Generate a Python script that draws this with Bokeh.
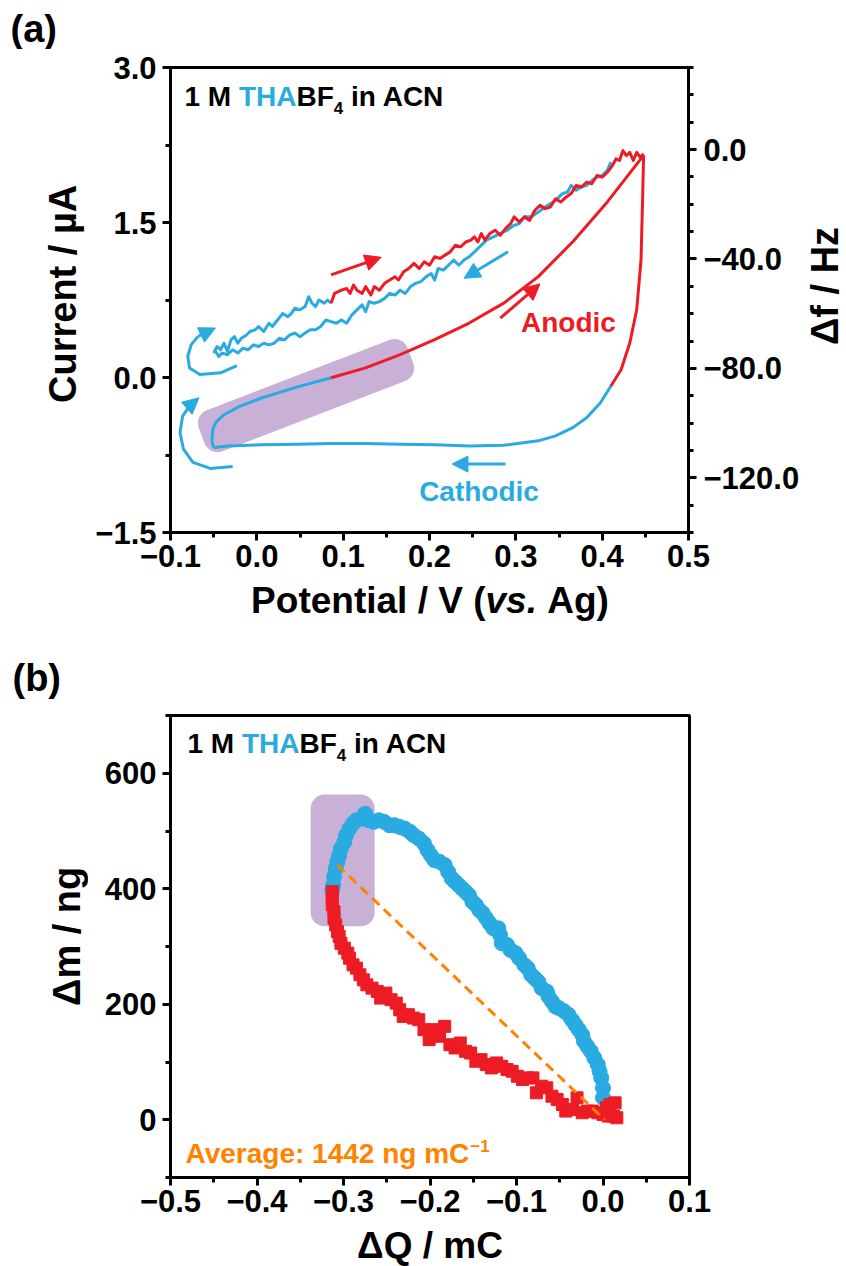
import numpy as np
from bokeh.plotting import figure
from bokeh.models import (Range1d, LinearAxis, FixedTicker, CustomJSTickFormatter,
                          Label, Arrow, NormalHead)
from bokeh.layouts import column, row
from bokeh.embed import file_html
from bokeh.resources import INLINE

RED = "#ED1C24"
BLUE = "#29ABE2"
ORANGE = "#FF8200"
PURPLE = "#C9B0D6"
FONT = "Liberation Sans"

# ---------------- panel (a) data ----------------
# CV current (left axis, µA) vs potential (V vs Ag)
cv_an_blue_E = [-0.050, -0.052, -0.051, -0.047, -0.038, -0.020, 0.006, 0.046, 0.086]
cv_an_blue_I = [-0.68, -0.62, -0.50, -0.43, -0.36, -0.28, -0.196, -0.093, -0.003]
cv_an_red_E = [0.086, 0.126, 0.166, 0.206, 0.246, 0.286, 0.326, 0.366, 0.406, 0.448]
cv_an_red_I = [-0.003, 0.093, 0.222, 0.366, 0.527, 0.72, 0.976, 1.314, 1.699, 2.149]
cv_ca_red_E = [0.448, 0.447, 0.445, 0.440, 0.432, 0.422, 0.410]
cv_ca_red_I = [2.149, 1.78, 1.137, 0.655, 0.334, 0.077, -0.084]
cv_ca_blue_E = [0.410, 0.398, 0.382, 0.366, 0.346, 0.326, 0.286, 0.246, 0.206, 0.166,
                0.126, 0.086, 0.046, 0.006, -0.034, -0.050]
cv_ca_blue_I = [-0.084, -0.244, -0.389, -0.485, -0.565, -0.613, -0.655, -0.662, -0.652,
                -0.646, -0.639, -0.639, -0.646, -0.652, -0.662, -0.680]

# frequency shift (right axis, Hz)
df_an_blue_E = [-0.050, -0.046, -0.042, -0.038, -0.034, -0.030, -0.026, -0.022, -0.018, -0.012,
                -0.008, -0.002, 0.002, 0.008, 0.014, 0.018, 0.024, 0.030, 0.036, 0.040,
                0.044, 0.050, 0.056, 0.060, 0.064, 0.068, 0.072, 0.078, 0.082, 0.086]
df_an_blue_F = [-74.4, -72.0, -73.2, -70.8, -73.8, -69.6, -68.4, -70.8, -69.0, -67.8,
                -66.5, -65.9, -64.7, -66.5, -63.5, -64.7, -62.3, -59.9, -61.1, -59.9,
                -58.0, -58.6, -57.4, -53.8, -56.2, -57.4, -55.0, -56.2, -55.0, -56.2]
df_an_red_E = [0.086, 0.090, 0.098, 0.104, 0.108, 0.112, 0.116, 0.122, 0.126, 0.132,
               0.136, 0.142, 0.148, 0.154, 0.160, 0.164, 0.170, 0.176, 0.182, 0.188,
               0.194, 0.200, 0.206, 0.212, 0.218, 0.224, 0.230, 0.236, 0.242, 0.248,
               0.252, 0.256, 0.260, 0.264, 0.270, 0.276, 0.282, 0.288, 0.294, 0.298,
               0.304, 0.310, 0.316, 0.322, 0.328, 0.334, 0.340, 0.346, 0.352, 0.358,
               0.364, 0.370, 0.376, 0.382, 0.388, 0.394, 0.400, 0.406, 0.412, 0.416,
               0.420, 0.424, 0.428, 0.432, 0.436, 0.440, 0.444, 0.448]
df_an_red_F = [-56.2, -52.6, -51.4, -50.8, -52.6, -49.5, -51.4, -52.6, -50.1, -53.2,
               -50.1, -51.4, -48.9, -47.7, -46.5, -47.7, -44.7, -43.5, -41.6, -43.5,
               -41.0, -42.3, -39.2, -39.8, -38.6, -37.4, -35.0, -35.6, -33.8, -33.1,
               -31.9, -33.8, -30.7, -33.1, -30.7, -29.5, -31.3, -28.9, -27.1, -24.6,
               -26.5, -24.6, -25.9, -22.2, -20.4, -21.6, -21.0, -18.0, -19.2, -17.4,
               -16.1, -13.1, -13.7, -11.9, -12.5, -9.5, -10.1, -8.3, -5.8, -3.4,
               -4.0, -0.4, -2.2, -1.0, -4.0, -1.0, -2.8, -1.6]
df_ca_blue_E = [0.410, 0.406, 0.400, 0.394, 0.388, 0.382, 0.376, 0.370, 0.364, 0.360,
                0.354, 0.346, 0.340, 0.334, 0.326, 0.318, 0.310, 0.304, 0.298, 0.290,
                0.282, 0.274, 0.266, 0.258, 0.252, 0.246, 0.240, 0.234, 0.228, 0.222,
                0.216, 0.210, 0.206, 0.202, 0.196, 0.190, 0.184, 0.178, 0.172, 0.166,
                0.160, 0.154, 0.148, 0.142, 0.136, 0.130, 0.126, 0.122, 0.116, 0.110,
                0.104, 0.098, 0.092, 0.086, 0.080, 0.074, 0.068, 0.062, 0.056, 0.050,
                0.044, 0.038, 0.032, 0.026, 0.020, 0.014, 0.008, 0.002, -0.004, -0.010,
                -0.016, -0.022, -0.028, -0.034, -0.040, -0.044, -0.048]
df_ca_blue_F = [-4.6, -7.6, -9.5, -10.1, -11.3, -13.1, -13.7, -14.9, -13.1, -15.5,
                -16.1, -18.6, -19.8, -21.0, -22.8, -24.6, -24.6, -27.1, -27.7, -29.5,
                -30.7, -31.9, -33.1, -35.6, -37.4, -39.2, -40.4, -42.3, -40.4, -42.3,
                -44.1, -43.5, -47.7, -45.3, -46.5, -48.3, -48.9, -50.1, -52.6, -51.4,
                -53.2, -52.6, -54.4, -55.6, -56.2, -55.6, -59.3, -56.8, -58.6, -60.5,
                -63.5, -62.3, -63.5, -62.9, -62.3, -64.7, -65.9, -65.9, -67.1, -68.4,
                -67.1, -67.8, -69.6, -69.0, -70.8, -71.4, -70.8, -72.0, -71.4, -73.2,
                -72.6, -74.4, -73.2, -75.0, -74.4, -75.6, -73.8]

# ---------------- panel (b) data ----------------
dQ_blue = [0.000, 0.000, -0.002, -0.004, -0.006, -0.010, -0.014, -0.018, -0.022, -0.024,
           -0.028, -0.032, -0.036, -0.040, -0.045, -0.051, -0.055, -0.059, -0.063, -0.065,
           -0.071, -0.075, -0.079, -0.083, -0.087, -0.091, -0.097, -0.101, -0.107, -0.111,
           -0.117, -0.119, -0.121, -0.127, -0.131, -0.135, -0.139, -0.143, -0.147, -0.151,
           -0.155, -0.159, -0.163, -0.167, -0.171, -0.175, -0.179, -0.183, -0.189, -0.195,
           -0.199, -0.203, -0.207, -0.213, -0.219, -0.223, -0.229, -0.235, -0.241, -0.247,
           -0.253, -0.259, -0.265, -0.271, -0.275, -0.279, -0.285, -0.289, -0.293, -0.297,
           -0.299, -0.303, -0.305, -0.307, -0.309, -0.311, -0.312, -0.313]
dm_blue = [38, 55, 72.5, 84, 95.5, 107, 118.5, 127, 136, 147,
           156, 164.6, 173, 182, 188, 193.4, 196, 205, 213.5, 222,
           228, 239.4, 245, 251, 262.5, 268, 280, 288.4, 294, 302.8,
           305.6, 320, 331.6, 331.6, 340, 348.8, 357.5, 363, 372, 377.6,
           389, 395, 400.6, 406.4, 412, 418, 429.4, 441, 446.7, 449.6,
           458, 467, 478.4, 487, 492.7, 498.5, 504, 507, 510, 510,
           515.8, 518.7, 515.8, 518.7, 530, 521.5, 518.7, 513, 504.3, 492.7,
           481, 469.7, 458, 446.7, 435, 420.8, 406.4, 397.8]
dQ_red = [-0.313, -0.313, -0.313, -0.311, -0.311, -0.309, -0.307, -0.305, -0.303, -0.299,
          -0.295, -0.293, -0.289, -0.285, -0.281, -0.277, -0.273, -0.267, -0.261, -0.257,
          -0.251, -0.245, -0.239, -0.235, -0.231, -0.225, -0.219, -0.213, -0.207, -0.201,
          -0.195, -0.189, -0.183, -0.177, -0.171, -0.165, -0.159, -0.153, -0.147, -0.141,
          -0.135, -0.129, -0.123, -0.117, -0.111, -0.105, -0.099, -0.093, -0.087, -0.081,
          -0.077, -0.071, -0.065, -0.059, -0.053, -0.047, -0.043, -0.035, -0.030, -0.024,
          -0.018, -0.012, -0.006, 0.000, 0.004, 0.008, 0.014, 0.016, 0.012, 0.006]
dm_red = [394.9, 383.4, 371.9, 360.3, 348.8, 337.3, 325.8, 317.2, 305.6, 297,
          288.4, 279.7, 268.2, 262.5, 251, 242.3, 233.7, 227.9, 222.2, 210.7,
          219.3, 207.8, 202, 190.5, 179, 181.9, 176.1, 173.2, 156, 138.7,
          156, 144.5, 161.7, 130, 124.3, 132.9, 118.5, 115.6, 101.3, 104.1,
          95.5, 89.8, 98.4, 92.6, 86.9, 84, 75.4, 69.6, 72.5, 72.5,
          46.6, 58.1, 55.2, 40.8, 35.1, 26.4, 15, 17.8, 38, 12.1,
          15, 15, 12.1, 9.2, 20.7, 26.4, 29.3, 3.4, 6.3, 6.3]
avg_line_Q = [-0.307, 0.002]
avg_line_m = [441, 0]

# ---------------- annotations (data coords of panel a, left axis) ----------------
arrows_a = [  # x0, y0, x1, y1, color
    (0.086, 0.993, 0.144, 1.163, RED),
    (0.291, 1.217, 0.240, 0.960, BLUE),
    (0.282, 0.575, 0.328, 0.906, RED),
    (0.288, -0.838, 0.226, -0.838, BLUE),
]
curve_arrow1_x = [-0.023, -0.042, -0.066, -0.078, -0.080, -0.076, -0.068, -0.048]
curve_arrow1_y = [0.116, 0.045, 0.029, 0.093, 0.206, 0.318, 0.398, 0.479]
curve_arrow2_x = [-0.028, -0.054, -0.074, -0.085, -0.089, -0.086, -0.078, -0.067]
curve_arrow2_y = [-0.861, -0.880, -0.822, -0.694, -0.533, -0.373, -0.276, -0.196]

# ---------------- layout constants (pixels) ----------------
W = 846
LEFT_STRIP = 88
BL, FW, BR_A = 82, 519, 113
BB = 47
BT_A, BT_B = 18, 12
FH_A, FH_B = 465, 462
RIGHT_STRIP = W - LEFT_STRIP - BL - FW - BR_A
H_A = BT_A + FH_A + BB
H_B = BT_B + FH_B + BB
TOP_A = 49          # page y where panel (a) row starts
XL_A_END = 640      # page y where panel (a) x-label strip ends
TOP_B = 703         # page y where panel (b) row starts
H_PAGE = 1266
BASE_SHIFT = 0.34   # renderer places alphabetic baseline ~0.34 em lower; compensate
XLAB = 37           # x-axis title font size


def fmt(d):
    return CustomJSTickFormatter(code="return tick.toFixed(%d).replace('-', '\u2212')" % d)


def style_axis(ax, ticks, minors, digits):
    ax.ticker = FixedTicker(ticks=ticks, minor_ticks=minors)
    ax.formatter = fmt(digits)
    ax.axis_line_width = 3
    ax.axis_line_color = "black"
    ax.major_tick_line_width = 3
    ax.minor_tick_line_width = 3
    ax.major_tick_line_color = "black"
    ax.minor_tick_line_color = "black"
    ax.major_tick_out = 8
    ax.major_tick_in = 0
    ax.minor_tick_out = 5
    ax.minor_tick_in = 0
    ax.major_label_text_font = FONT
    ax.major_label_text_font_style = "bold"
    ax.major_label_text_font_size = "31px"
    ax.major_label_text_color = "black"
    ax.major_label_standoff = 6
    ax.axis_label = None


def lab(p, x, y, text, size, color="black", style="bold", xo=0, yo=0,
        align="left", angle=0.0):
    if angle == 0.0:
        yo = yo + BASE_SHIFT * size
    else:
        xo = xo - BASE_SHIFT * size
    p.add_layout(Label(x=x, y=y, text=text, x_offset=xo, y_offset=yo,
                       text_font=FONT, text_font_size="%dpx" % size,
                       text_font_style=style, text_color=color,
                       text_align=align, text_baseline="alphabetic", angle=angle))


def base_fig(xr, yr, w, h, br, bt):
    p = figure(width=w, height=h, x_range=xr, y_range=yr,
               output_backend="svg", toolbar_location=None,
               min_border_left=BL, min_border_right=br,
               min_border_top=bt, min_border_bottom=BB)
    p.xgrid.visible = False
    p.ygrid.visible = False
    p.outline_line_color = "black"
    p.outline_line_width = 3
    p.outline_line_alpha = 1
    p.background_fill_color = "white"
    p.border_fill_color = "white"
    return p


def strip(w, h):
    s = figure(width=w, height=h, x_range=Range1d(0, w), y_range=Range1d(0, h),
               output_backend="svg", toolbar_location=None,
               x_axis_location=None, y_axis_location=None, min_border=0)
    s.xgrid.visible = False
    s.ygrid.visible = False
    s.outline_line_color = None
    s.background_fill_color = "white"
    s.border_fill_color = "white"
    return s


def title_parts(p, x, y, xo, yo):
    F = 28
    s = 17
    lab(p, x, y, "1 M", F, xo=xo, yo=yo)
    lab(p, x, y, "THA", F, color=BLUE, xo=xo + 1.945 * F, yo=yo)
    lab(p, x, y, "BF", F, xo=xo + (1.945 + 2.055) * F, yo=yo)
    lab(p, x, y, "4", s, xo=xo + (1.945 + 2.055 + 1.333) * F, yo=yo - 7)
    lab(p, x, y, "in ACN", F, xo=xo + (1.945 + 2.055 + 1.333) * F + 0.556 * s + 0.278 * F, yo=yo)


# ================= panel (a) =================
pa = base_fig(Range1d(-0.1, 0.5), Range1d(-1.5, 3.0), BL + FW + BR_A, H_A, BR_A, BT_A)
pa.extra_y_ranges = {"df": Range1d(-140, 30)}
style_axis(pa.xaxis[0], [-0.1, 0.0, 0.1, 0.2, 0.3, 0.4, 0.5],
           [-0.05, 0.05, 0.15, 0.25, 0.35, 0.45], 1)
pa.xaxis[0].major_label_standoff = 4
style_axis(pa.yaxis[0], [-1.5, 0.0, 1.5, 3.0], [-0.75, 0.75, 2.25], 1)
ax_r = LinearAxis(y_range_name="df")
style_axis(ax_r, [0, -40, -80, -120],
           [30, 20, 10, -10, -20, -30, -50, -60, -70, -90, -100, -110, -130, -140], 1)
ax_r.major_label_standoff = 7
pa.add_layout(ax_r, "right")

# purple highlight (rotated rounded rectangle) built in screen pixels
cx, cy = 0.057, -0.175
L, T, r, th = 224.0, 44.0, 14.0, np.radians(21.0)
pts = []
hx, hy = L / 2 - r, T / 2 - r
for ccx, ccy, a0 in [(hx, hy, 0), (-hx, hy, 90), (-hx, -hy, 180), (hx, -hy, 270)]:
    for k in range(9):
        a = np.radians(a0 + 90 * k / 8)
        pts.append((ccx + r * np.cos(a), ccy + r * np.sin(a)))
pts = np.array(pts)
rx = pts[:, 0] * np.cos(th) - pts[:, 1] * np.sin(th)
ry = pts[:, 0] * np.sin(th) + pts[:, 1] * np.cos(th)
pa.patch(cx + rx * 0.6 / FW, cy + ry * 4.5 / FH_A, fill_color=PURPLE, line_color=None)

# frequency curves (right axis)
pa.line(df_ca_blue_E, df_ca_blue_F, y_range_name="df", color=BLUE, line_width=3, line_join="round")
pa.line(df_an_blue_E, df_an_blue_F, y_range_name="df", color=BLUE, line_width=3, line_join="round")
pa.line(df_an_red_E, df_an_red_F, y_range_name="df", color=RED, line_width=3, line_join="round")

# CV current (left axis)
pa.line(cv_ca_blue_E, cv_ca_blue_I, color=BLUE, line_width=3, line_join="round")
pa.line(cv_an_blue_E, cv_an_blue_I, color=BLUE, line_width=3, line_join="round")
pa.line(cv_an_red_E, cv_an_red_I, color=RED, line_width=3, line_join="round")
pa.line(cv_ca_red_E, cv_ca_red_I, color=RED, line_width=3, line_join="round")

for x0, y0, x1, y1, c in arrows_a:
    pa.add_layout(Arrow(x_start=x0, y_start=y0, x_end=x1, y_end=y1, line_color=c, line_width=3,
                        end=NormalHead(size=16, fill_color=c, line_color=c, line_width=1)))
for xs, ys in [(curve_arrow1_x, curve_arrow1_y), (curve_arrow2_x, curve_arrow2_y)]:
    pa.line(xs[:-1], ys[:-1], color=BLUE, line_width=3, line_join="round")
    pa.add_layout(Arrow(x_start=xs[-2], y_start=ys[-2], x_end=xs[-1], y_end=ys[-1],
                        line_color=BLUE, line_width=3,
                        end=NormalHead(size=16, fill_color=BLUE, line_color=BLUE, line_width=1)))

title_parts(pa, -0.1, 3.0, 14, -39)
lab(pa, 0.306, 0.438, "Anodic", 28, color=RED)
lab(pa, 0.188, -1.197, "Cathodic", 28, color=BLUE)

# strips holding the outer texts of panel (a); y measured from each strip's bottom
hdr_a = strip(W, TOP_A)
lab(hdr_a, 10, TOP_A - 41, "(a)", 38)
left_a = strip(LEFT_STRIP, H_A)
lab(left_a, 75, TOP_A + H_A - 307, "Current / \u00b5A", 38, align="center", angle=np.pi / 2)
right_a = strip(RIGHT_STRIP, H_A)
lab(right_a, 837 - (W - RIGHT_STRIP), TOP_A + H_A - 298, "\u0394f / Hz", 38,
    align="center", angle=np.pi / 2)
XL_A_H = XL_A_END - (TOP_A + H_A)
xl_a = strip(W, XL_A_H)
F = XLAB
xs0 = 429.5 - 4.8345 * F
ybase = XL_A_END - (TOP_A + H_A + 34)
lab(xl_a, xs0, ybase, "Potential / V (", F)
lab(xl_a, xs0 + 6.335 * F, ybase, "vs.", F, style="bold italic")
lab(xl_a, xs0 + (6.335 + 1.390 + 0.278) * F, ybase, "Ag)", F)

# ================= panel (b) =================
pb = base_fig(Range1d(-0.5, 0.1), Range1d(-100, 700), W - LEFT_STRIP, H_B,
              W - LEFT_STRIP - BL - FW, BT_B)
style_axis(pb.xaxis[0], [-0.5, -0.4, -0.3, -0.2, -0.1, 0.0, 0.1],
           [-0.45, -0.35, -0.25, -0.15, -0.05, 0.05], 1)
pb.xaxis[0].major_label_standoff = 4
style_axis(pb.yaxis[0], [0, 200, 400, 600], [-100, 100, 300, 500, 700], 0)

pb.quad(left=-0.338, right=-0.264, bottom=335, top=563, fill_color=PURPLE,
        line_color=None, border_radius=14)
pb.scatter(dQ_blue, dm_blue, marker="circle", size=15, fill_color=BLUE, line_color=BLUE)
pb.scatter(dQ_red, dm_red, marker="square", size=12, fill_color=RED, line_color=RED)
pb.line(avg_line_Q, avg_line_m, color=ORANGE, line_width=3, line_dash="10 6")

title_parts(pb, -0.5, 700, 17, -38)
lab(pb, -0.5, -100, "Average: 1442 ng mC", 28, color=ORANGE, xo=15, yo=14)
lab(pb, -0.5, -100, "\u22121", 17, color=ORANGE, xo=15 + 10.17 * 28, yo=26)

hdr_b = strip(W, TOP_B - XL_A_END)
lab(hdr_b, 12, TOP_B - 690, "(b)", 38)
left_b = strip(LEFT_STRIP, H_B)
lab(left_b, 79, TOP_B + H_B - 952, "\u0394m / ng", 38, align="center", angle=np.pi / 2)
XL_B_H = H_PAGE - (TOP_B + H_B)
xl_b = strip(W, XL_B_H)
lab(xl_b, 429.5, XL_B_H - 34, "\u0394Q / mC", XLAB, align="center")

layout = column(hdr_a, row(left_a, pa, right_a, spacing=0), xl_a,
                hdr_b, row(left_b, pb, spacing=0), xl_b, spacing=0)
open("out.html", "w").write(file_html(layout, INLINE))
